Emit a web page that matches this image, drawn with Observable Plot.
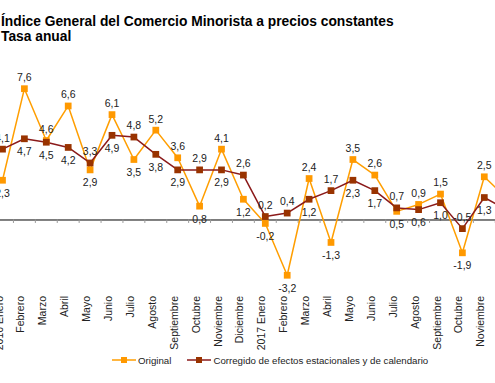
<!DOCTYPE html>
<html>
<head>
<meta charset="utf-8">
<script src="https://cdn.jsdelivr.net/npm/d3@7"></script>
<script src="https://cdn.jsdelivr.net/npm/@observablehq/plot@0.6"></script>
<style>
  html, body { margin: 0; padding: 0; background: #fff; overflow: hidden; }
  body { width: 495px; height: 383px; position: relative; font-family: "Liberation Sans", Arial, sans-serif; }
  #title { position: absolute; left: 1px; top: 0; padding-top: 14px; font-weight: bold; font-size: 13.8px; line-height: 15px; color: #000; white-space: nowrap; }
  #chart { position: absolute; left: 0; top: 50px; }
  #chart svg { overflow: visible; }
  #legend { position: absolute; left: 0; top: 350px; height: 20px; display: flex; align-items: center; font-size: 9.7px; color: #222; padding-left: 112px; white-space: nowrap; }
  #legend .item { display: flex; align-items: center; margin-right: 16px; }
  #legend svg { margin-right: 2px; }
</style>
</head>
<body>
<div id="title">Índice General del Comercio Minorista a precios constantes<br>Tasa anual</div>
<div id="chart"></div>
<div id="legend"></div>
<script>
const categories = [
  "2016 Enero","Febrero","Marzo","Abril","Mayo","Junio","Julio","Agosto","Septiembre","Octubre","Noviembre","Diciembre",
  "2017 Enero","Febrero","Marzo","Abril","Mayo","Junio","Julio","Agosto","Septiembre","Octubre","Noviembre","Diciembre"
];
const original = [2.3, 7.6, 4.6, 6.6, 2.9, 6.1, 3.5, 5.2, 3.6, 0.8, 4.1, 1.2,
                  -0.2, -3.2, 2.4, -1.3, 3.5, 2.6, 0.5, 0.9, 1.5, -1.9, 2.5, 1.3];
const corregido = [4.1, 4.7, 4.5, 4.2, 3.3, 4.9, 4.8, 3.8, 2.9, 2.9, 2.9, 2.6,
                   0.2, 0.4, 1.2, 1.7, 2.3, 1.7, 0.7, 0.6, 1.0, -0.5, 1.3, 0.6];
const seriesNames = ["Original", "Corregido de efectos estacionales y de calendario"];

const cOrig = "#FF9E00";
const cOrigMark = "#FF9900";
const cCorr = "#8B1A1A";
const cCorrMark = "#993300";

const fmt = v => v.toFixed(1).replace(".", ",");
const data = categories.map((c, i) => ({
  i, label: c, original: original[i], corregido: corregido[i],
  origAbove: original[i] >= corregido[i]
}));
const boundaries = categories.map((c, i) => i + 0.5);

const step = 21.9;
const chart = Plot.plot({
  width: 495,
  height: 300,
  marginLeft: 0,
  marginRight: 0,
  marginTop: 14,
  marginBottom: 54.5,
  style: { fontFamily: "'Liberation Sans', Arial, sans-serif", background: "transparent", overflow: "visible" },
  x: { type: "linear", domain: [-2 / step, 493 / step], axis: null },
  y: { domain: [-4.4, 9], axis: null },
  marks: [
    Plot.ruleY([0], { stroke: "#000", strokeWidth: 1 }),
    Plot.ruleX(boundaries, { x: d => d, y1: 0, y2: -0.2, stroke: "#999" }),
    Plot.text(data, {
      x: "i", text: "label", frameAnchor: "bottom", dy: 0, rotate: -90,
      textAnchor: "end", fontSize: 10.5, fill: "#222"
    }),
    Plot.line(data, { x: "i", y: "original", stroke: cOrig, strokeWidth: 1.5 }),
    Plot.line(data, { x: "i", y: "corregido", stroke: cCorr, strokeWidth: 1.5 }),
    Plot.dot(data, { x: "i", y: "original", symbol: "square", r: 3.8, fill: cOrigMark, stroke: "none" }),
    Plot.dot(data, { x: "i", y: "corregido", symbol: "square", r: 3.8, fill: cCorrMark, stroke: "none" }),
    Plot.text(data, {
      x: "i", y: "original", text: d => fmt(d.original),
      fontSize: 10.5, fill: "#222", filter: d => d.origAbove, dy: -11
    }),
    Plot.text(data, {
      x: "i", y: "original", text: d => fmt(d.original),
      fontSize: 10.5, fill: "#222", filter: d => !d.origAbove, dy: 13
    }),
    Plot.text(data, {
      x: "i", y: "corregido", text: d => fmt(d.corregido),
      fontSize: 10.5, fill: "#222", filter: d => !d.origAbove, dy: -11
    }),
    Plot.text(data, {
      x: "i", y: "corregido", text: d => fmt(d.corregido),
      fontSize: 10.5, fill: "#222", filter: d => d.origAbove, dy: 13
    })
  ]
});
document.getElementById("chart").appendChild(chart);

const legend = document.getElementById("legend");
[[seriesNames[0], cOrig, cOrigMark], [seriesNames[1], cCorr, cCorrMark]].forEach(([name, lc, mc]) => {
  const item = document.createElement("div");
  item.className = "item";
  item.innerHTML = `<svg width="24" height="10"><line x1="0" x2="24" y1="5" y2="5" stroke="${lc}" stroke-width="1.5"/><rect x="9" y="2" width="6" height="6" fill="${mc}"/></svg><span>${name}</span>`;
  legend.appendChild(item);
});
</script>
</body>
</html>
